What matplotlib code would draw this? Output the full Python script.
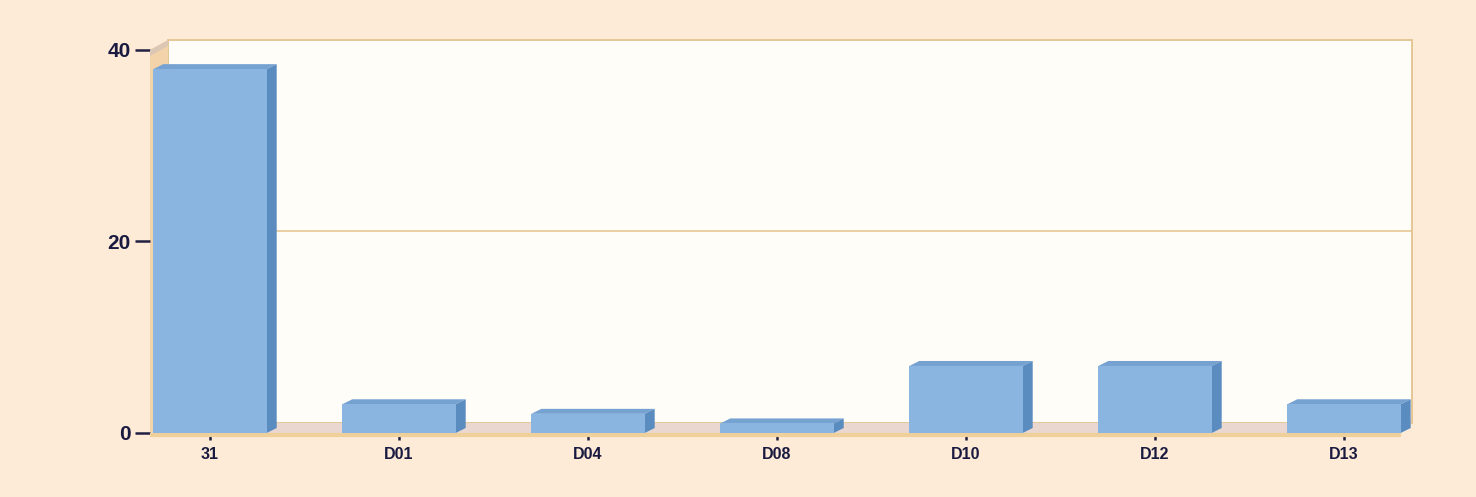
import matplotlib
matplotlib.use("Agg")
import matplotlib.pyplot as plt
from matplotlib.patches import Polygon, Rectangle

categories = ["31", "D01", "D04", "D08", "D10", "D12", "D13"]
values = [38, 3, 2, 1, 7, 7, 3]
yticks = [0, 20, 40]

W, H = 1476, 497
fig = plt.figure(figsize=(W / 100, H / 100), dpi=100)
fig.patch.set_facecolor("#fdebd7")

# axes = front plane of the 3D box (pixels)
left_px, right_px, top_px, bot_px = 150, 1394, 50, 433
ax = fig.add_axes([left_px / W, (H - bot_px) / H,
                   (right_px - left_px) / W, (bot_px - top_px) / H])
ax.set_facecolor("none")
step_px = 189.0
xmin = -60.0 / step_px
xmax = xmin + (right_px - left_px) / step_px
ymin, ymax = 0, 40
ax.set_xlim(xmin, xmax)
ax.set_ylim(ymin, ymax)
ux = (xmax - xmin) / (right_px - left_px)
uy = (ymax - ymin) / (bot_px - top_px)

dxw, dyw = 18 * ux, 10 * uy   # wall depth
dxb, dyb = 10 * ux, 5 * uy    # bar depth

# back wall
ax.add_patch(Rectangle((xmin + dxw, ymin + dyw), xmax - xmin, ymax - ymin,
                       facecolor="#fffdf8", edgecolor="#e3c38e", lw=1.3,
                       clip_on=False, zorder=1))
# left wall
ax.add_patch(Polygon([(xmin, ymin), (xmin + dxw, ymin + dyw), (xmin + dxw, ymax + dyw), (xmin, ymax)],
                     closed=True, facecolor="#f3d3aa", edgecolor="none",
                     clip_on=False, zorder=1.5))
ax.add_patch(Polygon([(xmin, ymax - 6 * uy), (xmin + dxw, ymax + dyw - 6 * uy), (xmin + dxw, ymax + dyw), (xmin, ymax)],
                     closed=True, facecolor="#dcc6b4", edgecolor="none",
                     clip_on=False, zorder=1.6))
# floor
ax.add_patch(Polygon([(xmin, ymin), (xmax, ymin), (xmax + dxw, ymin + dyw), (xmin + dxw, ymin + dyw)],
                     closed=True, facecolor="#ead8d0", edgecolor="none",
                     clip_on=False, zorder=1.5))
ax.plot([xmin, xmax + dxw * 0.4], [ymin - 0.25, ymin - 0.25], color="#efcf9a", lw=3,
        clip_on=False, zorder=1.7, solid_capstyle="butt")
# gridline at 20 on back wall
for t in yticks[1:-1]:
    ax.plot([xmin + dxw, xmax + dxw], [t + dyw, t + dyw], color="#e6c794", lw=1.2,
            clip_on=False, zorder=1.8)

# bars
bw = 0.6
for i, v in enumerate(values):
    x0, x1 = i - bw / 2, i + bw / 2
    ax.add_patch(Polygon([(x0, v), (x1, v), (x1 + dxb, v + dyb), (x0 + dxb, v + dyb)],
                         closed=True, facecolor="#76a2d1", edgecolor="none",
                         clip_on=False, zorder=3))
    ax.add_patch(Polygon([(x1, 0), (x1 + dxb, dyb), (x1 + dxb, v + dyb), (x1, v)],
                         closed=True, facecolor="#5a8cc0", edgecolor="none",
                         clip_on=False, zorder=3))
    ax.add_patch(Rectangle((x0, 0), bw, v, facecolor="#8bb5e1", edgecolor="none",
                           clip_on=False, zorder=3))

for s in ax.spines.values():
    s.set_visible(False)

ax.set_yticks(yticks)
ax.set_yticklabels([str(t) for t in yticks])
ax.set_xticks(range(len(categories)))
ax.set_xticklabels(categories)
ax.tick_params(axis="y", length=11, width=1.8, color="#202040", pad=3,
               labelsize=15, labelcolor="#1a1a40")
ax.tick_params(axis="x", length=5, width=1.8, color="#202040", pad=5,
               labelsize=11.5, labelcolor="#1a1a40")
for lab in ax.get_yticklabels():
    lab.set_fontfamily("Liberation Sans")
    lab.set_fontweight("bold")
for lab in ax.get_xticklabels():
    lab.set_fontfamily("Liberation Sans")
    lab.set_fontweight("bold")

fig.savefig("out.png", dpi=100, facecolor=fig.get_facecolor())
